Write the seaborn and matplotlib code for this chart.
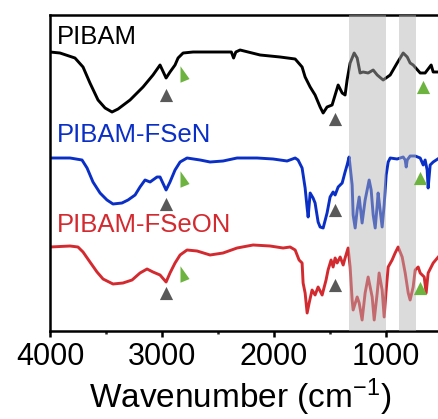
import numpy as np
import pandas as pd
import matplotlib
matplotlib.use("Agg")
import matplotlib.pyplot as plt
from matplotlib.path import Path
from matplotlib.ticker import MultipleLocator
import seaborn as sns

# FTIR spectra (offset transmittance, a.u.)
wn_pibam = [4000, 3911, 3777, 3705, 3643, 3571, 3508, 3446, 3392, 3285, 3169, 3080, 3017,
            2963, 2928, 2883, 2856, 2811, 2722, 2409, 2380, 2360, 2340, 2302, 2123, 1945,
            1810, 1748, 1721, 1676, 1632, 1587, 1560, 1525, 1480, 1453, 1426, 1390, 1364,
            1346, 1319, 1283, 1256, 1230, 1203, 1158, 1113, 1077, 1024, 961, 899, 845, 809,
            783, 756, 693, 649, 595, 577, 523, 480, 400]
t_pibam = [279, 278, 273, 264, 248, 231, 223, 219, 222, 231, 244, 256, 266,
           253, 259, 266, 273, 278, 279, 279, 279, 273, 279, 281, 276, 274,
           272, 264, 254, 244, 236, 224, 218, 224, 226, 236, 246, 238, 236,
           251, 268, 278, 273, 258, 259, 258, 261, 256, 251, 256, 268, 278, 274,
           268, 266, 258, 258, 266, 259, 259, 262, 262]

wn_fsen = [4000, 3821, 3714, 3669, 3616, 3553, 3491, 3437, 3357, 3303, 3240, 3196, 3151,
           3106, 3044, 3017, 2963, 2928, 2883, 2838, 2776, 2659, 2570, 2454, 2329, 2150,
           2007, 1882, 1810, 1784, 1748, 1721, 1703, 1694, 1676, 1650, 1632, 1605, 1587,
           1560, 1525, 1498, 1471, 1453, 1426, 1390, 1364, 1346, 1328, 1301, 1292, 1274,
           1256, 1238, 1212, 1185, 1167, 1149, 1131, 1113, 1095, 1077, 1069, 1051, 1033,
           1015, 997, 979, 961, 899, 845, 827, 818, 809, 783, 738, 693, 666, 649, 631,
           622, 604, 577, 523, 450, 400]
t_fsen = [173, 173, 171, 163, 149, 138, 131, 127, 128, 131, 136, 144, 151,
          149, 154, 154, 141, 149, 161, 169, 173, 171, 169, 170, 173, 173,
          172, 170, 173, 171, 163, 143, 123, 114, 138, 133, 128, 109, 104,
          103, 118, 134, 139, 136, 144, 148, 159, 166, 174, 146, 116, 103,
          121, 134, 108, 131, 141, 151, 141, 116, 103, 126, 138, 121, 104,
          126, 156, 169, 173, 172, 174, 171, 164, 171, 175, 175, 173, 166, 171, 161,
          143, 166, 169, 173, 173, 173]

wn_fseon = [4000, 3821, 3750, 3705, 3643, 3580, 3526, 3437, 3348, 3267, 3196, 3133, 3080,
            3017, 2963, 2928, 2883, 2838, 2776, 2686, 2570, 2454, 2329, 2186, 2034, 1918,
            1855, 1810, 1775, 1748, 1739, 1721, 1703, 1685, 1659, 1632, 1605, 1569, 1534,
            1516, 1489, 1471, 1453, 1435, 1408, 1381, 1364, 1337, 1319, 1301, 1292, 1256,
            1238, 1212, 1185, 1158, 1122, 1104, 1077, 1060, 1033, 1015, 997, 979, 944,
            917, 890, 854, 827, 800, 783, 756, 738, 711, 693, 657, 640, 622, 577, 532,
            480, 400]
t_fseon = [84, 85, 84, 79, 69, 59, 52, 47, 48, 51, 58, 62, 59,
           56, 49, 58, 68, 76, 81, 80, 76, 78, 83, 86, 85, 83,
           84, 81, 71, 68, 48, 38, 18, 28, 41, 36, 44, 36, 51,
           61, 71, 64, 73, 68, 74, 66, 73, 83, 64, 31, 21, 34,
           28, 11, 38, 54, 34, 11, 38, 58, 41, 14, 41, 64, 71,
           78, 84, 74, 58, 38, 31, 44, 61, 64, 58, 54, 38, 58, 68, 74,
           80, 82]

labels = ["PIBAM", "PIBAM-FSeN", "PIBAM-FSeON"]
colors = ["#000000", "#0a2fc6", "#d32a30"]
label_y = [287, 189, 99]

# band markers: C-H stretch (gray) and side bands (green)
gray_wn = [2963, 2963, 2963, 1453, 1453, 1453]
gray_t = [236, 127, 38, 212, 121, 46]
green1_wn = [2840, 2840, 2840]
green1_t = [257, 152, 57]
green2_wn = [666, 693, 693]
green2_t = [244, 153, 43]

# highlighted regions (cm-1)
bands = [(1330, 1000), (885, 730)]

sns.set_theme(style="ticks")
plt.rcParams["font.family"] = ["Liberation Sans", "DejaVu Sans"]
plt.rcParams["mathtext.fontset"] = "custom"
plt.rcParams["mathtext.rm"] = "Liberation Sans"
plt.rcParams["mathtext.it"] = "Liberation Sans"

fig = plt.figure(figsize=(4.39, 4.19), dpi=100)
ax = fig.add_axes([50 / 439, 88 / 419, 403 / 439, 316 / 419])

for wn, t, c in zip([wn_pibam, wn_fsen, wn_fseon], [t_pibam, t_fsen, t_fseon], colors):
    df = pd.DataFrame({"wn": wn, "t": t})
    sns.lineplot(data=df, x="wn", y="t", sort=False, estimator=None,
                 color=c, lw=2.1, ax=ax, zorder=2)

for lo, hi in bands:
    ax.axvspan(hi, lo, color="#b4b4b4", alpha=0.47, lw=0, zorder=3)

sns.scatterplot(x=gray_wn, y=gray_t, marker="^", s=90, color="#595959",
                linewidth=0, ax=ax, zorder=4)
tri = Path([(0, 1), (0, -1), (1.1, -0.55), (0, 1)],
           [Path.MOVETO, Path.LINETO, Path.LINETO, Path.CLOSEPOLY])
sns.scatterplot(x=green1_wn, y=green1_t, marker=tri, s=170, color="#6db33f",
                linewidth=0, ax=ax, zorder=4)
sns.scatterplot(x=green2_wn, y=green2_t, marker="^", s=90, color="#6db33f",
                linewidth=0, ax=ax, zorder=4)

for lab, c, y in zip(labels, colors, label_y):
    ax.text(3937, y, lab, color=c, fontsize=18.5, va="baseline", ha="left")

ax.set_xlim(4000, 400)
ax.set_ylim(0, 316)
ax.set_yticks([])
ax.set_ylabel("")
ax.xaxis.set_major_locator(MultipleLocator(1000))
ax.xaxis.set_minor_locator(MultipleLocator(500))
ax.tick_params(axis="x", which="major", direction="out", length=4, width=1.8,
               labelsize=22, pad=4, color="black", labelcolor="black")
ax.tick_params(axis="x", which="minor", direction="out", length=2.5, width=1.8)
for side in ["left", "right", "top", "bottom"]:
    ax.spines[side].set_linewidth(1.8)
    ax.spines[side].set_color("black")
ax.set_xlabel("Wavenumber (cm$^{-1}$)", fontsize=24, labelpad=2, color="black")
ax.xaxis.set_label_coords(0.472, -0.145)

fig.savefig("out.png", dpi=100)
